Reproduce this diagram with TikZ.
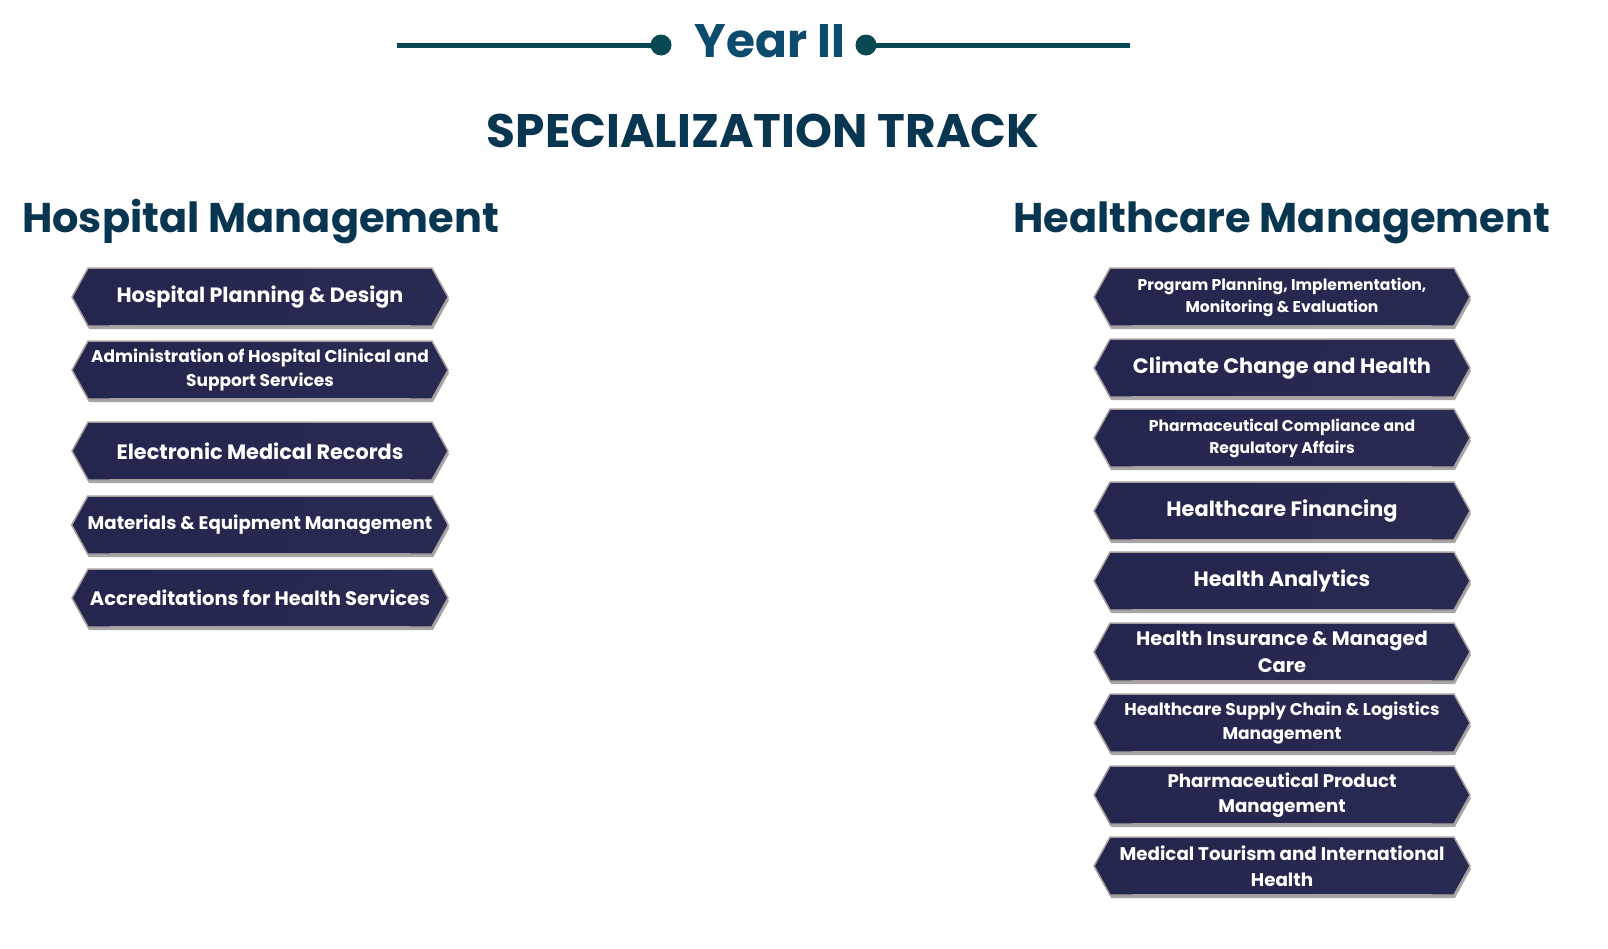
\documentclass[tikz,border=0pt]{standalone}
\usepackage{fontspec}
\setmainfont{Poppins}
\usetikzlibrary{shapes.symbols,shadows}
\definecolor{yearc}{RGB}{12,74,110}
\definecolor{linec}{RGB}{8,72,82}
\definecolor{headc}{RGB}{8,54,80}
\definecolor{navyA}{RGB}{36,38,78}
\definecolor{navyM}{RGB}{18,19,56}
\definecolor{navyB}{RGB}{40,42,82}
\definecolor{edgec}{RGB}{168,158,160}
\definecolor{glowc}{RGB}{140,180,215}
\newcommand{\fs}[1]{\fontsize{#1}{\dimexpr #1pt*14/10\relax}\selectfont}
\begin{document}
\begin{tikzpicture}[x=1pt,y=-1pt,
  hexbox/.style={signal, signal to=west and east, signal pointer angle=122,
    minimum width=376pt, minimum height=58pt, inner sep=0pt, outer sep=0pt,
    draw=edgec, line width=1.5pt,
    left color=navyA, middle color=navyM, right color=navyB, shading angle=70,
    drop shadow={shadow xshift=1pt, shadow yshift=-3pt, fill=black, opacity=0.35},
    text=white, align=center, font=\bfseries},
  glow/.style={left color=edgec, middle color=glowc, right color=edgec},
  title/.style={inner sep=0pt, font=\bfseries}]
\useasboundingbox (0,0) rectangle (1608,948);
% header
\coordinate (l1) at (397,45);
\coordinate (l2) at (1130,45);
\node[circle, fill=linec, minimum size=21pt, inner sep=0pt] (d1) at (661,45) {};
\node[circle, fill=linec, minimum size=21pt, inner sep=0pt] (d2) at (866,45) {};
\draw[linec, line width=5pt] (l1) -- (d1.center);
\draw[linec, line width=5pt] (d2.center) -- (l2);
\node[title, text=yearc, anchor=base, font=\bfseries\fs{47}] (year) at (770,57) {Year II};
\node[title, text=headc, anchor=base, font=\bfseries\fs{47}] (spec) at (763,147) {SPECIALIZATION TRACK};
\node[title, text=headc, anchor=base west, font=\bfseries\fs{41.5}] (hm) at (22,232) {Hospital Management};
\node[title, text=headc, anchor=base west, font=\bfseries\fs{41.5}] (hcm) at (1013,232) {Healthcare Management};
% left column
\node[hexbox, font=\bfseries\fs{20.7}] (a1) at (260,297) {Hospital Planning \& Design};
\node[hexbox, font=\bfseries\fs{17}] (a2) at (260,370) {Administration of Hospital Clinical and\\Support Services};
\node[hexbox, font=\bfseries\fs{20.8}] (a3) at (260,451) {Electronic Medical Records};
\node[hexbox, font=\bfseries\fs{18.2}] (a4) at (260,525) {Materials \& Equipment Management};
\node[hexbox, font=\bfseries\fs{19.5}] (a5) at (260,598) {Accreditations for Health Services};
% right column
\node[hexbox, font=\bfseries\fs{15.6}] (b1) at (1282,297) {Program Planning, Implementation,\\Monitoring \& Evaluation};
\node[hexbox, font=\bfseries\fs{20.9}] (b2) at (1282,368) {Climate Change and Health};
\node[hexbox, font=\bfseries\fs{15.6}] (b3) at (1282,438) {Pharmaceutical Compliance and\\Regulatory Affairs};
\node[hexbox, font=\bfseries\fs{20.9}] (b4) at (1282,511) {Healthcare Financing};
\node[hexbox, font=\bfseries\fs{20.8}] (b5) at (1282,581) {Health Analytics};
\node[hexbox, font=\bfseries\fs{19.5}] (b6) at (1282,652) {Health Insurance \& Managed\\Care};
\node[hexbox, font=\bfseries\fs{17}] (b7) at (1282,723) {Healthcare Supply Chain \& Logistics\\Management};
\node[hexbox, font=\bfseries\fs{18.2}] (b8) at (1282,795) {Pharmaceutical Product\\Management};
\node[hexbox, font=\bfseries\fs{18.3}] (b9) at (1282,866) {Medical Tourism and International\\Health};
% bottom glow
\foreach \n in {a1,a2,a3,a4,a5,b1,b2,b3,b4,b5,b6,b7,b8,b9}
  \shade[glow] ([xshift=-150pt, yshift=0.8pt]\n.south) rectangle ([xshift=150pt, yshift=-0.8pt]\n.south);
\end{tikzpicture}
\end{document}
